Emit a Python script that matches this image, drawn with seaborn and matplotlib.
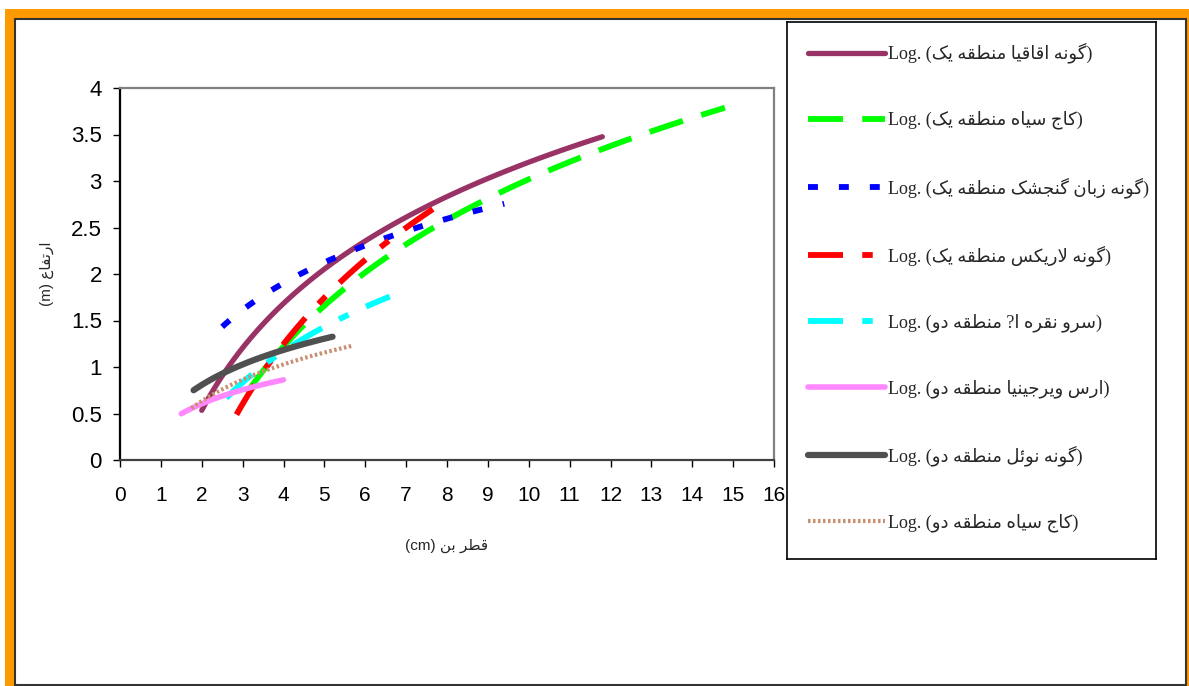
import numpy as np
import pandas as pd
import seaborn as sns
import matplotlib.pyplot as plt
from matplotlib.patches import Rectangle
from matplotlib.ticker import FuncFormatter

# ---- data (diameter cm, height m) ----
acacia_x = [2.0, 2.6, 3.4, 4.6, 5.7, 7.7, 9.6, 11.8]
acacia_y = [0.50, 1.00, 1.47, 1.86, 2.26, 2.78, 3.12, 3.49]

pine1_x = [3.1, 4.3, 5.1, 5.7, 6.5, 7.0, 7.9, 9.3, 10.7, 12.0, 13.4, 14.8]
pine1_y = [0.73, 1.37, 1.70, 1.90, 2.17, 2.33, 2.53, 2.88, 3.14, 3.38, 3.60, 3.80]

ash_x = [2.5, 3.4, 4.2, 4.9, 5.7, 6.4, 7.1, 7.8, 8.6, 9.4]
ash_y = [1.44, 1.74, 1.94, 2.10, 2.25, 2.37, 2.48, 2.58, 2.67, 2.75]

larix_x = [2.85, 3.2, 4.4, 5.1, 5.6, 6.4, 7.1, 7.7]
larix_y = [0.50, 0.73, 1.45, 1.81, 2.02, 2.26, 2.53, 2.72]

cypress_x = [2.6, 3.3, 3.8, 4.5, 5.1, 5.9, 6.6]
cypress_y = [0.64, 0.95, 1.15, 1.33, 1.43, 1.61, 1.76]

juniper_x = [1.5, 2.0, 2.7, 3.3, 4.0]
juniper_y = [0.50, 0.61, 0.70, 0.79, 0.87]

noel_x = [1.8, 2.5, 3.5, 4.4, 5.2]
noel_y = [0.75, 0.93, 1.11, 1.23, 1.33]

pine2_x = [1.75, 2.5, 3.3, 3.9, 4.8, 5.7]
pine2_y = [0.56, 0.76, 0.92, 1.00, 1.13, 1.24]

names = [
    "گونه اقاقیا منطقه یک",
    "کاج سیاه منطقه یک",
    "گونه زبان گنجشک منطقه یک",
    "گونه لاریکس منطقه یک",
    "سرو نقره ا? منطقه دو",
    "ارس ویرجینیا منطقه دو",
    "گونه نوئل منطقه دو",
    "کاج سیاه منطقه دو",
]
xlabel_fa = "قطر بن"
ylabel_fa = "ارتفاع"

# ---- tiny arabic/persian shaper (matplotlib has no text shaping) ----
FORMS = {
    'ا': ('\uFE8D', '\uFE8E', None, None),
    'ب': ('\uFE8F', '\uFE90', '\uFE91', '\uFE92'),
    'ت': ('\uFE95', '\uFE96', '\uFE97', '\uFE98'),
    'ج': ('\uFE9D', '\uFE9E', '\uFE9F', '\uFEA0'),
    'د': ('\uFEA9', '\uFEAA', None, None),
    'ر': ('\uFEAD', '\uFEAE', None, None),
    'ز': ('\uFEAF', '\uFEB0', None, None),
    'س': ('\uFEB1', '\uFEB2', '\uFEB3', '\uFEB4'),
    'ش': ('\uFEB5', '\uFEB6', '\uFEB7', '\uFEB8'),
    'ط': ('\uFEC1', '\uFEC2', '\uFEC3', '\uFEC4'),
    'ع': ('\uFEC9', '\uFECA', '\uFECB', '\uFECC'),
    'ف': ('\uFED1', '\uFED2', '\uFED3', '\uFED4'),
    'ق': ('\uFED5', '\uFED6', '\uFED7', '\uFED8'),
    'ل': ('\uFEDD', '\uFEDE', '\uFEDF', '\uFEE0'),
    'م': ('\uFEE1', '\uFEE2', '\uFEE3', '\uFEE4'),
    'ن': ('\uFEE5', '\uFEE6', '\uFEE7', '\uFEE8'),
    'ه': ('\uFEE9', '\uFEEA', '\uFEEB', '\uFEEC'),
    'و': ('\uFEED', '\uFEEE', None, None),
    'ئ': ('\uFE89', '\uFE8A', '\uFE8B', '\uFE8C'),
    'ی': ('\uFBFC', '\uFBFD', '\uFBFE', '\uFBFF'),
    'ک': ('\uFB8E', '\uFB8F', '\uFB90', '\uFB91'),
    'گ': ('\uFB92', '\uFB93', '\uFB94', '\uFB95'),
}


def shape(text):
    out = []
    i = 0
    while i < len(text):
        c = text[i]
        if c not in FORMS:
            out.append(c)
            i += 1
            continue
        prev = text[i - 1] if i > 0 else None
        joins_prev = prev in FORMS and FORMS[prev][2] is not None
        if c == 'ل' and i + 1 < len(text) and text[i + 1] == 'ا':
            out.append('\uFEFC' if joins_prev else '\uFEFB')
            i += 2
            continue
        nxt = text[i + 1] if i + 1 < len(text) else None
        joins_next = FORMS[c][2] is not None and nxt in FORMS
        iso, fin, ini, med = FORMS[c]
        if joins_prev and joins_next:
            out.append(med)
        elif joins_prev:
            out.append(fin)
        elif joins_next:
            out.append(ini)
        else:
            out.append(iso)
        i += 1
    return ''.join(out)


def rtl(text):
    return shape(text)[::-1]


# ---- styles ----
series = [
    (acacia_x, acacia_y, dict(color='#993366', lw=3.8, solid_capstyle='round')),
    (pine1_x, pine1_y, dict(color='#00FF00', lw=4.2, dashes=(6, 3.3))),
    (ash_x, ash_y, dict(color='#0000FF', lw=4.2, dashes=(1.7, 3.6))),
    (larix_x, larix_y, dict(color='#FF0000', lw=4.2, dashes=(6, 3.3, 1.8, 3.3))),
    (cypress_x, cypress_y, dict(color='#00FFFF', lw=4.2, dashes=(6, 3.3, 1.8, 3.3))),
    (juniper_x, juniper_y, dict(color='#FF88FF', lw=4.0)),
    (noel_x, noel_y, dict(color='#505050', lw=4.5)),
    (pine2_x, pine2_y, dict(color='#C89070', lw=3.0, dashes=(0.6, 0.6))),
]

sns.set_style('ticks')
plt.rcParams['font.family'] = ['Liberation Sans', 'DejaVu Sans']

W, H = 1189, 686
fig = plt.figure(figsize=(W / 100, H / 100), dpi=100)
fig.patches.append(Rectangle((5 / W, 0), 1, 1 - 9 / H, transform=fig.transFigure,
                             facecolor='#FF9900', edgecolor='none', zorder=-20))
fig.patches.append(Rectangle((15 / W, 1 / H), (1186 - 15) / W, (667 - 1) / H,
                             transform=fig.transFigure, facecolor='white',
                             edgecolor='#333333', lw=1.5, zorder=-10))

ax = fig.add_axes([120 / W, 1 - 460 / H, 654 / W, 372 / H])
for (xs, ys, kw), name in zip(series, names):
    df = pd.DataFrame({'x': xs, 'y': ys})
    sns.regplot(data=df, x='x', y='y', logx=True, scatter=False, ci=None,
                truncate=True, ax=ax, label='Log. (' + rtl(name) + ')',
                line_kws=kw)

ax.set_xlim(0, 16)
ax.set_ylim(0, 4)
ax.set_xticks(np.arange(0, 17, 1))
ax.set_yticks(np.arange(0, 4.01, 0.5))
ax.yaxis.set_major_formatter(FuncFormatter(lambda v, p: f'{v:g}'))
ax.tick_params(axis='both', direction='out', length=5, width=1, colors='black')
ax.tick_params(axis='y', labelsize=16, pad=8)
ax.tick_params(axis='x', labelsize=15, pad=14)
ax.spines['left'].set_color('black')
ax.spines['bottom'].set_color('#404040')
ax.spines['top'].set_color('#808080')
ax.spines['right'].set_color('#808080')
for s in ax.spines.values():
    s.set_linewidth(1.6)
ax.set_xlabel('(cm) ' + rtl(xlabel_fa), fontsize=11, labelpad=24)
ax.set_ylabel('(m) ' + rtl(ylabel_fa), fontsize=11, labelpad=12)

# legend box on the right
lax = fig.add_axes([787 / W, 1 - 559 / H, 369 / W, 537 / H])
lax.set_xticks([])
lax.set_yticks([])
for s in lax.spines.values():
    s.set_color('black')
    s.set_linewidth(1.2)
handles, labels = ax.get_legend_handles_labels()
lax.legend(handles, labels, loc='upper left', frameon=False,
           prop={'family': ['Liberation Serif', 'DejaVu Sans'], 'size': 13},
           handlelength=4.3, handletextpad=0.15, labelspacing=2.63,
           borderpad=1.15, borderaxespad=0)

fig.savefig('out.png', dpi=100)
